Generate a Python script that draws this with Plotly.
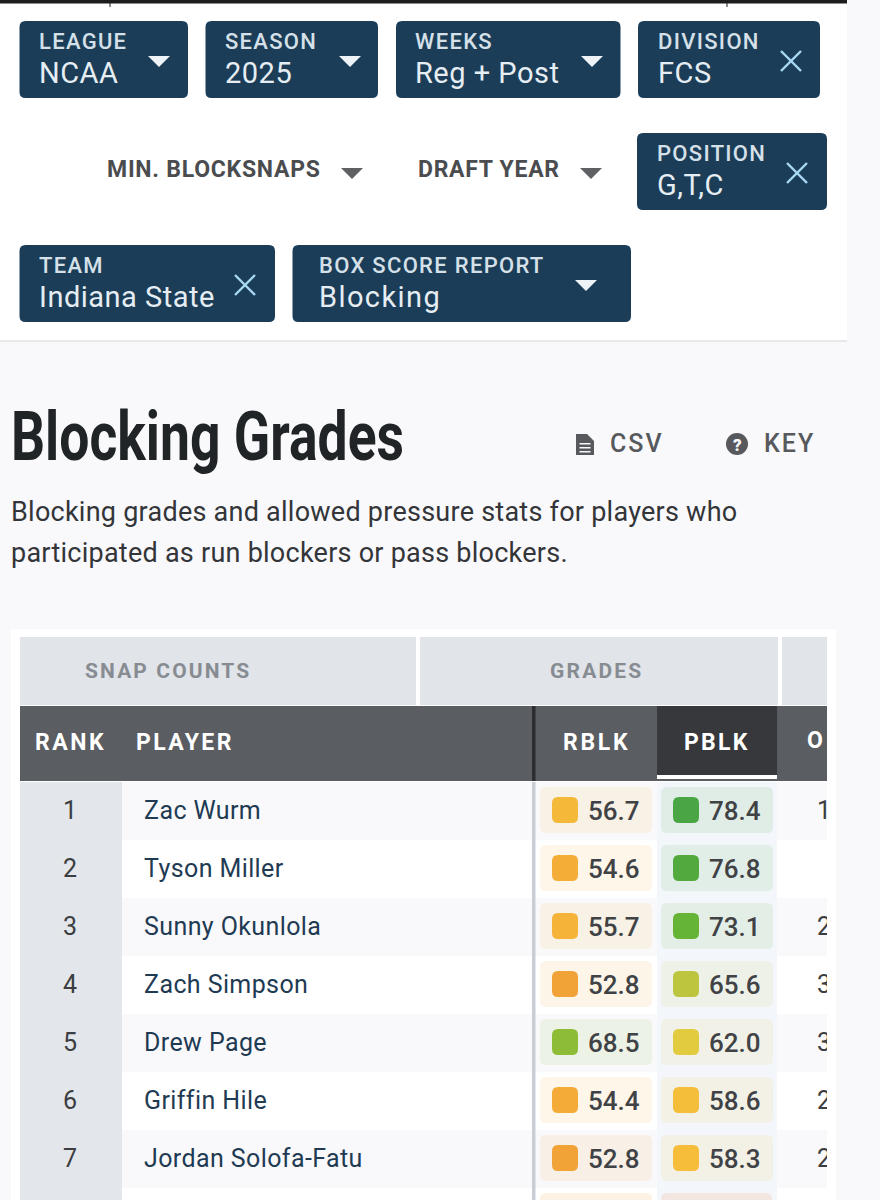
import json

import plotly.graph_objects as go

# Table data
RANKS = [1, 2, 3, 4, 5, 6, 7]
PLAYERS = ["Zac Wurm", "Tyson Miller", "Sunny Okunlola", "Zach Simpson",
           "Drew Page", "Griffin Hile", "Jordan Solofa-Fatu"]
RBLK = [56.7, 54.6, 55.7, 52.8, 68.5, 54.4, 52.8]
PBLK = [78.4, 76.8, 73.1, 65.6, 62.0, 58.6, 58.3]
# only the first digit of the next column is visible before the table cuts off
NEXT_COL = ["1", "", "2", "3", "3", "2", "2"]

# Filter chips
CHIP_LABELS = ["LEAGUE", "SEASON", "WEEKS", "DIVISION", "POSITION", "TEAM", "BOX SCORE REPORT"]
CHIP_VALUES = ["NCAA", "2025", "Reg + Post", "FCS", "G,T,C", "Indiana State", "Blocking"]
PLAIN_FILTERS = ["MIN. BLOCKSNAPS", "DRAFT YEAR"]

TITLE = "Blocking Grades"
BLURB = ["Blocking grades and allowed pressure stats for players who",
         "participated as run blockers or pass blockers."]
GROUPS = ["SNAP COUNTS", "GRADES"]

# Geometry of the filter chips: x0, x1, y0, text x, icon kind, icon x
CHIP_BOXES = [
    (19.5, 188, 21, 38.5, "caret", 159),
    (205.5, 378, 21, 225, "caret", 350),
    (396, 620.5, 21, 415, "caret", 592),
    (638, 820, 21, 658, "x", 791),
    (637, 827, 133, 657, "x", 797),
    (19.5, 275, 245, 39, "x", 245),
    (292.5, 631, 245, 319, "caret", 586),
]

# Grade colour scale
GRADE_STOPS = [(52.8, (242, 163, 55)), (54.5, (244, 172, 55)), (56.7, (245, 185, 58)),
               (58.5, (246, 190, 58)), (62.0, (226, 203, 62)), (65.6, (188, 197, 61)),
               (68.5, (141, 189, 55)), (73.1, (102, 180, 54)), (76.8, (82, 170, 62)),
               (78.4, (74, 165, 68))]

NAVY = "#1b3d58"
PAGE = "#f9f9fc"
FONT = "Roboto"
ROW_TOP = 782
ROW_H = 58


def grade_rgb(grade):
    for (g0, c0), (g1, c1) in zip(GRADE_STOPS, GRADE_STOPS[1:]):
        if g0 <= grade <= g1:
            t = (grade - g0) / (g1 - g0)
            return tuple(round(a + (b - a) * t) for a, b in zip(c0, c1))
    return GRADE_STOPS[-1][1]


def rrect(x0, y0, x1, y1, r):
    return (f"M{x0 + r},{y0} L{x1 - r},{y0} Q{x1},{y0} {x1},{y0 + r} L{x1},{y1 - r} "
            f"Q{x1},{y1} {x1 - r},{y1} L{x0 + r},{y1} Q{x0},{y1} {x0},{y1 - r} "
            f"L{x0},{y0 + r} Q{x0},{y0} {x0 + r},{y0} Z")


shapes = []
annotations = []


def box(x0, y0, x1, y1, color):
    shapes.append(dict(type="rect", xref="x", yref="y", x0=x0, x1=x1, y0=y0, y1=y1,
                       fillcolor=color, line_width=0, layer="below"))


def round_box(x0, y0, x1, y1, r, color):
    shapes.append(dict(type="path", xref="x", yref="y", path=rrect(x0, y0, x1, y1, r),
                       fillcolor=color, line_width=0, layer="below"))


def caret(cx, y0, y1, half, color):
    shapes.append(dict(type="path", xref="x", yref="y",
                       path=f"M{cx - half},{y0} L{cx + half},{y0} L{cx},{y1} Z",
                       fillcolor=color, line_width=0, layer="above"))


def cross(cx, cy, size, color):
    for sign in (1, -1):
        shapes.append(dict(type="line", xref="x", yref="y", x0=cx - size, x1=cx + size,
                           y0=cy - sign * size, y1=cy + sign * size,
                           line=dict(color=color, width=2.4), layer="above"))


def label(text, x, y, size, color, weight=400, anchor="left"):
    # annotations pad their text by about 2px
    if anchor == "left":
        x -= 2
    annotations.append(dict(text=text, x=x, y=y, xref="x", yref="y", showarrow=False,
                            xanchor=anchor, yanchor="middle", align=anchor,
                            font=dict(family=FONT, size=size, color=color, weight=weight)))


# Page background and the white filter panel
box(0, 0, 847, 340, "#ffffff")
box(0, 340, 847, 342, "#e8e8ea")
box(0, 0, 847, 3.5, "#1d1d1f")
box(109.5, 0, 110.5, 7, "#1d1d1f")
box(726.5, 0, 727.5, 7, "#1d1d1f")

# Filter chips
for (x0, x1, y0, tx, icon, ix), name, value in zip(CHIP_BOXES, CHIP_LABELS, CHIP_VALUES):
    round_box(x0, y0, x1, y0 + 77, 6, NAVY)
    label(name, tx, y0 + 20, 22, "#d5e0e9", 500)
    label(value, tx, y0 + 52, 29, "#e6edf3")
    if icon == "caret":
        caret(ix, y0 + 35, y0 + 46, 11, "#eef3f7")
    else:
        cross(ix, y0 + 40, 10, "#a8d9f5")

label(PLAIN_FILTERS[0], 107, 169, 23, "#4a4c4f", 700)
caret(352, 168, 179, 11, "#5e6063")
label(PLAIN_FILTERS[1], 418, 169, 23, "#4a4c4f", 700)
caret(591, 168, 179, 11, "#5e6063")

# Title block
label(TITLE, 11, 436, 69, "#212427", 700)
label(BLURB[0], 11, 512, 27, "#333538")
label(BLURB[1], 11, 553, 27, "#333538")

# CSV and KEY links
shapes.append(dict(type="path", xref="x", yref="y", fillcolor="#57595c", line_width=0, layer="below",
                   path="M576,434 L587,434 L594,441 L594,455 L576,455 Z"))
box(579.5, 443, 590.5, 444.5, PAGE)
box(579.5, 447, 590.5, 448.5, PAGE)
box(579.5, 451, 590.5, 452.5, PAGE)
label("CSV", 610, 443.5, 25, "#57595c", 500)
shapes.append(dict(type="circle", xref="x", yref="y", x0=726, x1=748, y0=433, y1=455,
                   fillcolor="#57595c", line_width=0, layer="below"))
label("?", 737, 444.5, 17, PAGE, 900, anchor="center")
label("KEY", 764, 443.5, 25, "#57595c", 500)

# Table panel and group header
box(11, 629, 836, 1200, "#ffffff")
box(20, 637, 416, 705, "#e1e4e9")
box(420, 637, 778, 705, "#e1e4e9")
box(782, 637, 827, 705, "#e1e4e9")
label(GROUPS[0], 85, 670.5, 21, "#878c92", 700)
label(GROUPS[1], 550, 670.5, 21, "#878c92", 700)

# Column header
box(20, 706, 827, 781, "#5a5d62")
box(657, 706, 777, 775, "#37383c")
box(657, 775, 777, 779, "#ffffff")
box(532, 706, 535.5, 781, "#2b2d31")
label("RANK", 35, 742.5, 23, "#ffffff", 700)
label("PLAYER", 136, 742.5, 23, "#ffffff", 700)
label("RBLK", 563, 742.5, 23, "#ffffff", 700)
label("PBLK", 684, 742.5, 23, "#ffffff", 700)

# Rows
for i in range(len(PLAYERS) + 1):
    top = ROW_TOP + i * ROW_H
    bottom = min(top + ROW_H, 1200)
    if i % 2 == 0:
        box(20, top, 827, bottom, PAGE)
    box(20, top, 122, bottom, "#e3e6eb")

box(657, ROW_TOP, 777, 1200, "#f3f7fc")
box(532, ROW_TOP, 535.5, 1200, "#c9ced6")

for i, (rb, pb) in enumerate(zip(RBLK, PBLK)):
    top = ROW_TOP + i * ROW_H
    for x0, grade in ((540, rb), (661, pb)):
        r, g, b = grade_rgb(grade)
        round_box(x0, top + 5, x0 + 112, top + 51, 6, f"rgba({r},{g},{b},0.11)")
        round_box(x0 + 12, top + 15, x0 + 38, top + 41, 6, f"rgb({r},{g},{b})")

# Tops of the eighth row, cut off by the bottom of the picture
cut_top = ROW_TOP + len(PLAYERS) * ROW_H + 5
round_box(540, cut_top, 652, cut_top + 46, 6, "#fdf3e5")
round_box(661, cut_top, 772, cut_top + 46, 6, "#f3e6e1")

row_y = [ROW_TOP + 30.5 + i * ROW_H for i in range(len(PLAYERS))]
text_font = dict(family=FONT, size=25, color="#3b3d40")

fig = go.Figure()
fig.add_trace(go.Scatter(x=[70] * len(RANKS), y=row_y, text=[str(r) for r in RANKS], mode="text",
                         textposition="middle center", textfont=text_font))
fig.add_trace(go.Scatter(x=[144] * len(PLAYERS), y=row_y, text=PLAYERS, mode="text",
                         textposition="middle right",
                         textfont=dict(family=FONT, size=25, color="#1f3b53")))
for x, grades in ((588, RBLK), (709, PBLK)):
    fig.add_trace(go.Scatter(x=[x] * len(grades), y=[v + 1 for v in row_y],
                             text=[f"{g:.1f}" for g in grades], mode="text",
                             textposition="middle right",
                             textfont=dict(family=FONT, size=26, color="#404245", weight=500)))

# Columns running past the table edge go on their own axis so they clip at x=827
fig.add_trace(go.Scatter(x=[817] * len(NEXT_COL), y=row_y, text=NEXT_COL, mode="text",
                         xaxis="x2", textposition="middle right", textfont=text_font))
fig.add_trace(go.Scatter(x=[807], y=[742.5], text=["O"], mode="text", xaxis="x2",
                         textposition="middle right", cliponaxis=True,
                         textfont=dict(family=FONT, size=23, color="#ffffff", weight=700)))

# plot background stays clear, the x2 subplot would otherwise paint over the shapes below it
fig.update_layout(
    width=880, height=1200, margin=dict(l=0, r=0, t=0, b=0),
    paper_bgcolor=PAGE, plot_bgcolor="rgba(0,0,0,0)", showlegend=False, hovermode=False,
    shapes=shapes, annotations=annotations,
    xaxis=dict(range=[0, 880], visible=False, fixedrange=True),
    xaxis2=dict(range=[0, 827], domain=[0, 827 / 880], visible=False, anchor="y", fixedrange=True),
    yaxis=dict(range=[1200, 0], visible=False, fixedrange=True),
)

# SVG has no layout option for tracking, so it is set on the drawn text afterwards
spacing = {"RANK": 2.5, "PLAYER": 2.4, "RBLK": 2.7, "PBLK": 2.3, "SNAP COUNTS": 2.1, "GRADES": 2.2,
           "CSV": 2, "KEY": 2, "MIN. BLOCKSNAPS": 0.75, "DRAFT YEAR": 0.7}
for text in CHIP_LABELS:
    spacing[text] = 1.3
for text in CHIP_VALUES:
    spacing[text] = 0.5
spacing["Blocking"] = 1.4
for text in BLURB:
    spacing[text] = 0.25
for text in PLAYERS:
    spacing[text] = 0.4

# the heading face is a condensed one that is not installed, so Roboto is squeezed to its width
post_script = """
document.body.style.margin = '0';
document.body.style.overflow = 'hidden';
var spacing = %s;
document.querySelectorAll('svg text').forEach(function (t) {
    var s = spacing[t.textContent];
    if (s !== undefined) { t.style.letterSpacing = s + 'px'; }
    if (t.textContent === %s) {
        t.setAttribute('textLength', '393');
        t.setAttribute('lengthAdjust', 'spacingAndGlyphs');
    }
});
""" % (json.dumps(spacing), json.dumps(TITLE))

fig.write_html("out.html", post_script=post_script, config={"displayModeBar": False})
